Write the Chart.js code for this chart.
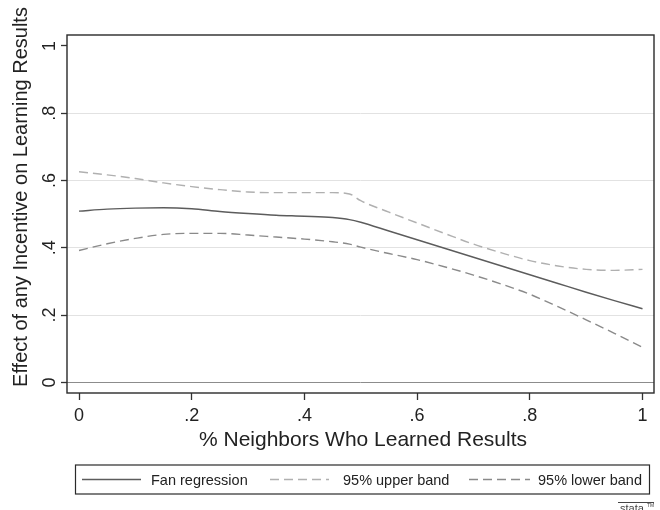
<!DOCTYPE html>
<html>
<head>
<meta charset="utf-8">
<script src="https://cdn.jsdelivr.net/npm/chart.js@4.4.1/dist/chart.umd.min.js"></script>
<style>
    html, body { margin: 0; padding: 0; background: #fff; }
    #wrap { width: 660px; height: 510px; }
</style>
</head>
<body>
<div id="wrap"><canvas id="fanChart" width="660" height="510"></canvas></div>
<script>
// Share of neighbors who learned results, and the estimated effect at each point
const xValues = [0, .05, .1, .15, .2, .25, .3, .35, .4, .45, .48, .5, .55, .6, .65, .7, .75, .8, .85, .9, .95, 1];
const fanRegression = [.509, .515, .518, .519, .516, .508, .502, .497, .494, .490, .484, .476, .450, .424, .398, .372, .346, .320, .294, .268, .243, .219];
const upperBand = [.626, .617, .606, .593, .582, .573, .566, .564, .564, .564, .560, .540, .506, .474, .442, .411, .385, .362, .346, .336, .333, .336];
const lowerBand = [.392, .412, .428, .440, .443, .443, .438, .432, .426, .418, .411, .402, .383, .365, .343, .319, .292, .262, .225, .186, .146, .104];

const seriesLabels = ['Fan regression', '95% upper band', '95% lower band'];
const xTicks = [0, .2, .4, .6, .8, 1];
const xTickLabels = ['0', '.2', '.4', '.6', '.8', '1'];
const yTicks = [0, .2, .4, .6, .8, 1];
const yTickLabels = ['0', '.2', '.4', '.6', '.8', '1'];
const xTitle = '% Neighbors Who Learned Results';
const yTitle = 'Effect of any Incentive on Learning Results';

const FONT = '"Liberation Sans", Arial, Helvetica, sans-serif';
const toPoints = (ys) => xValues.map((x, i) => ({ x: x, y: ys[i] }));

// Stata style frame, tick labels, titles and the boxed legend
const stataLook = {
    id: 'stataLook',
    afterDraw(chart) {
        const c = chart.ctx;
        const area = chart.chartArea;
        const xs = chart.scales.x;
        const ys = chart.scales.y;
        c.save();

        // plot frame
        c.strokeStyle = '#2a2a2a';
        c.lineWidth = 1.4;
        c.strokeRect(area.left, area.top, area.right - area.left, area.bottom - area.top);

        c.fillStyle = '#222';
        // x tick labels
        c.font = '18px ' + FONT;
        c.textAlign = 'center';
        c.textBaseline = 'alphabetic';
        xTicks.forEach((v, i) => {
            c.fillText(xTickLabels[i], xs.getPixelForValue(v), 421);
        });
        // y tick labels, vertical
        yTicks.forEach((v, i) => {
            c.save();
            c.translate(55, ys.getPixelForValue(v));
            c.rotate(-Math.PI / 2);
            c.fillText(yTickLabels[i], 0, 0);
            c.restore();
        });

        // axis titles
        c.font = '21px ' + FONT;
        c.fillText(xTitle, 363, 446);
        c.font = '20px ' + FONT;
        c.save();
        c.translate(27, 197);
        c.rotate(-Math.PI / 2);
        c.fillText(yTitle, 0, 0);
        c.restore();

        // legend box
        const box = { left: 75.5, top: 465, right: 649.5, bottom: 494 };
        c.strokeStyle = '#2a2a2a';
        c.lineWidth = 1.2;
        c.strokeRect(box.left, box.top, box.right - box.left, box.bottom - box.top);
        const midY = (box.top + box.bottom) / 2;
        const items = [
            { x0: 82, x1: 141, tx: 151 },
            { x0: 270, x1: 329, tx: 343 },
            { x0: 469, x1: 530, tx: 538 }
        ];
        c.font = '14.5px ' + FONT;
        c.textAlign = 'left';
        c.textBaseline = 'middle';
        chart.data.datasets.forEach((ds, i) => {
            const it = items[i];
            c.beginPath();
            c.strokeStyle = ds.borderColor;
            c.lineWidth = ds.borderWidth;
            c.setLineDash(ds.borderDash || []);
            c.moveTo(it.x0, midY);
            c.lineTo(it.x1, midY);
            c.stroke();
            c.setLineDash([]);
            c.fillStyle = '#222';
            c.fillText(ds.label, it.tx, midY + 1);
        });

        // small stata mark
        c.strokeStyle = '#444';
        c.lineWidth = 1;
        c.beginPath();
        c.moveTo(618, 502.5);
        c.lineTo(654, 502.5);
        c.stroke();
        c.fillStyle = '#444';
        c.font = '11px ' + FONT;
        c.textBaseline = 'alphabetic';
        c.fillText('stata', 620, 512);
        c.font = '5px ' + FONT;
        c.fillText('TM', 647, 507);

        c.restore();
    }
};

document.addEventListener('DOMContentLoaded', function () {
    const ctx = document.getElementById('fanChart').getContext('2d');
    new Chart(ctx, {
        type: 'line',
        data: {
            datasets: [
                {
                    label: seriesLabels[0],
                    data: toPoints(fanRegression),
                    borderColor: '#5c5c5c',
                    borderWidth: 1.4,
                    pointRadius: 0,
                    cubicInterpolationMode: 'monotone',
                    fill: false
                },
                {
                    label: seriesLabels[1],
                    data: toPoints(upperBand),
                    borderColor: '#b0b0b0',
                    borderWidth: 1.4,
                    borderDash: [9, 5],
                    pointRadius: 0,
                    cubicInterpolationMode: 'monotone',
                    fill: false
                },
                {
                    label: seriesLabels[2],
                    data: toPoints(lowerBand),
                    borderColor: '#8a8a8a',
                    borderWidth: 1.4,
                    borderDash: [9, 5],
                    pointRadius: 0,
                    cubicInterpolationMode: 'monotone',
                    fill: false
                }
            ]
        },
        options: {
            responsive: false,
            animation: false,
            layout: { padding: { left: 61, right: 6, top: 35, bottom: 110 } },
            plugins: { legend: { display: false }, tooltip: { enabled: false } },
            scales: {
                x: {
                    type: 'linear',
                    min: -0.0213,
                    max: 1.0204,
                    afterBuildTicks: (s) => { s.ticks = xTicks.map(v => ({ value: v })); },
                    ticks: { display: false },
                    border: { display: false },
                    grid: { drawOnChartArea: false, drawTicks: true, tickLength: 7, tickColor: '#333', tickWidth: 1.3 }
                },
                y: {
                    type: 'linear',
                    min: -0.0315,
                    max: 1.0326,
                    afterBuildTicks: (s) => { s.ticks = yTicks.map(v => ({ value: v })); },
                    ticks: { display: false },
                    border: { display: false },
                    grid: {
                        drawTicks: true,
                        tickLength: 6,
                        tickColor: '#333',
                        tickWidth: 1.3,
                        lineWidth: 1,
                        color: (c) => {
                            if (!c.tick) return 'rgba(0,0,0,0)';
                            if (c.tick.value === 0) return '#8c8c8c';
                            if (c.tick.value === 1) return 'rgba(0,0,0,0)';
                            return '#e2e2e2';
                        }
                    }
                }
            }
        },
        plugins: [stataLook]
    });
});
</script>
</body>
</html>
